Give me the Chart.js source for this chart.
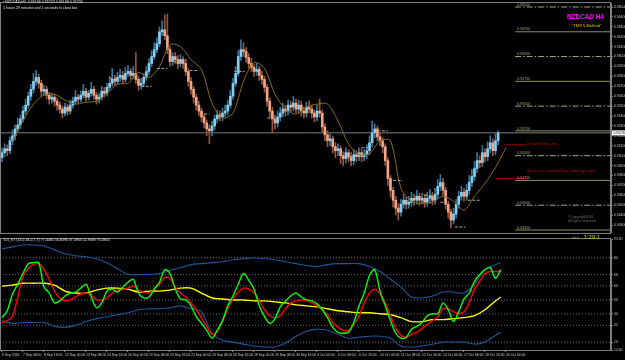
<!DOCTYPE html>
<html>
<head>
<meta charset="utf-8">
<script src="https://cdn.jsdelivr.net/npm/chart.js@4.4.1/dist/chart.umd.min.js"></script>
<style>
    html, body { margin: 0; padding: 0; background: #000; width: 625px; height: 360px; overflow: hidden; }
    #wrap { position: relative; width: 625px; height: 360px; font-family: Arial, "Liberation Sans", sans-serif; }
    #main { position: absolute; left: 0; top: 0; }
    #osc { position: absolute; left: 0; top: 236px; }
    .t { position: absolute; white-space: nowrap; line-height: 1; }
</style>
</head>
<body>
<div id="wrap">
    <canvas id="main" width="625" height="236"></canvas>
    <canvas id="osc" width="625" height="124"></canvas>

    <div class="t" style="left:3px;top:1px;font-size:3.6px;color:#e0e0e0;">&#9642; NZDCAD,H4 &nbsp;0.95196 0.95253 0.95168 0.95230</div>
    <div class="t" style="left:3px;top:6.5px;font-size:3.6px;color:#e0e0e0;">1 hours 29 minutes and 1 seconds to close bar</div>

    <div class="t" style="left:567px;top:13.5px;font-size:6.4px;font-weight:bold;color:#ff00ff;">NZDCAD H4</div>
    <div class="t" style="left:572px;top:23.5px;font-size:4px;color:#e6c200;">"TMS 5-Method"</div>

    <div class="t" style="left:527px;top:141.5px;font-size:4.6px;color:#d00000;font-family:'Liberation Serif',serif;">initial Stop Loss</div>
    <div class="t" style="left:527px;top:168.5px;font-size:4.6px;color:#d00000;font-family:'Liberation Serif',serif;">those who shorted here must get out</div>

    <div class="t" style="left:568px;top:216px;font-size:3.5px;color:#6e6e6e;">&copy;Copyright2016<br>all rights reserved</div>
    <div class="t" style="left:572px;top:226px;color:#d4c800;"><span style="font-size:4px;">&lt;&lt;&lt;</span> <span style="font-size:6px;">1:29:1</span></div>

    <div class="t" style="left:3px;top:238.5px;font-size:3.6px;color:#e0e0e0;">TDI_ST (13,2,34,2,7,7) 77.4085 56.8496 37.4963 52.9083 70.4855</div>
</div>

<script>
// ---------------------------------
// Price data (pips, 0.0001 units)
// ---------------------------------
const opens = [
    9498,9503,9507,9505,9515,9520,9527,9531,9537,9545,
    9551,9560,9567,9575,9579,9573,9565,9567,9561,9557,
    9559,9555,9551,9547,9543,9549,9545,9551,9555,9559,
    9557,9561,9565,9559,9563,9567,9561,9557,9559,9565,
    9563,9569,9573,9577,9575,9579,9581,9577,9583,9585,
    9581,9583,9577,9571,9573,9579,9585,9593,9600,9607,
    9613,9625,9627,9621,9607,9595,9600,9597,9593,9597,
    9593,9585,9575,9567,9559,9551,9545,9539,9533,9527,
    9525,9530,9537,9541,9539,9543,9545,9551,9560,9573,
    9583,9600,9607,9605,9599,9593,9589,9585,9587,9581,
    9577,9569,9555,9545,9537,9533,9539,9543,9547,9545,
    9551,9549,9553,9547,9551,9545,9543,9549,9547,9543,
    9539,9545,9543,9529,9521,9515,9517,9509,9505,9507,
    9500,9497,9503,9499,9495,9501,9499,9503,9499,9501,
    9505,9513,9523,9527,9519,9515,9509,9495,9477,9465,
    9455,9447,9443,9451,9455,9451,9453,9457,9455,9459,
    9455,9457,9453,9457,9459,9455,9461,9469,9473,9465,
    9451,9443,9435,9441,9451,9459,9463,9459,9465,9473,
    9479,9487,9495,9493,9503,9499,9507,9513,9505,9515
];
const closes = [
    9503,9507,9505,9515,9520,9527,9531,9537,9545,9551,
    9560,9567,9575,9579,9573,9565,9567,9561,9557,9559,
    9555,9551,9547,9543,9549,9545,9551,9555,9559,9557,
    9561,9565,9559,9563,9567,9561,9557,9559,9565,9563,
    9569,9573,9577,9575,9579,9581,9577,9583,9585,9581,
    9583,9577,9571,9573,9579,9585,9593,9600,9607,9613,
    9625,9627,9621,9607,9595,9600,9597,9593,9597,9593,
    9585,9575,9567,9559,9551,9545,9539,9533,9527,9525,
    9530,9537,9541,9539,9543,9545,9551,9560,9573,9583,
    9600,9607,9605,9599,9593,9589,9585,9587,9581,9577,
    9569,9555,9545,9537,9533,9539,9543,9547,9545,9551,
    9549,9553,9547,9551,9545,9543,9549,9547,9543,9539,
    9545,9543,9529,9521,9515,9517,9509,9505,9507,9500,
    9497,9503,9499,9495,9501,9499,9503,9499,9501,9505,
    9513,9523,9527,9519,9515,9509,9495,9477,9465,9455,
    9447,9443,9451,9455,9451,9453,9457,9455,9459,9455,
    9457,9453,9457,9459,9455,9461,9469,9473,9465,9451,
    9443,9435,9441,9451,9459,9463,9459,9465,9473,9479,
    9487,9495,9493,9503,9499,9507,9513,9505,9515,9523
];
const highs = [
    9508,9512,9511,9519,9526,9531,9538,9541,9550,9557,
    9564,9572,9583,9586,9582,9576,9571,9570,9564,9563,
    9562,9558,9554,9550,9553,9552,9556,9559,9566,9562,
    9565,9572,9568,9566,9574,9570,9564,9563,9570,9569,
    9573,9580,9588,9581,9584,9587,9585,9589,9591,9588,
    9590,9604,9580,9578,9583,9590,9598,9606,9614,9619,
    9630,9636,9642,9643,9610,9604,9604,9601,9602,9600,
    9597,9588,9579,9570,9562,9555,9548,9542,9536,9531,
    9535,9541,9546,9545,9548,9551,9556,9566,9578,9590,
    9606,9617,9614,9609,9603,9598,9592,9593,9590,9585,
    9580,9572,9558,9549,9541,9545,9549,9553,9551,9556,
    9555,9560,9557,9556,9555,9549,9554,9555,9551,9546,
    9551,9557,9546,9532,9525,9522,9520,9513,9512,9510,
    9504,9508,9506,9503,9506,9505,9508,9507,9506,9511,
    9520,9535,9532,9530,9523,9518,9512,9498,9480,9468,
    9459,9452,9456,9461,9458,9459,9463,9461,9465,9462,
    9462,9461,9463,9466,9463,9467,9476,9481,9477,9468,
    9454,9446,9447,9456,9464,9469,9467,9471,9480,9486,
    9494,9503,9500,9510,9507,9514,9520,9517,9522,9525
];
const lows = [
    9494,9499,9500,9502,9511,9516,9524,9527,9534,9542,
    9548,9556,9563,9571,9568,9560,9561,9557,9552,9553,
    9550,9546,9543,9538,9540,9541,9542,9548,9552,9553,
    9554,9558,9555,9556,9560,9557,9552,9553,9556,9559,
    9560,9566,9570,9571,9572,9575,9573,9574,9580,9577,
    9578,9573,9566,9567,9570,9576,9582,9590,9597,9604,
    9610,9621,9617,9603,9590,9591,9593,9588,9590,9588,
    9581,9570,9562,9553,9546,9540,9534,9528,9520,9512,
    9520,9526,9533,9535,9535,9539,9541,9548,9557,9570,
    9580,9596,9600,9594,9588,9585,9580,9581,9576,9572,
    9564,9550,9538,9523,9527,9529,9535,9539,9540,9541,
    9544,9545,9543,9543,9540,9538,9539,9543,9538,9534,
    9535,9539,9524,9515,9509,9510,9503,9498,9500,9492,
    9490,9493,9494,9490,9491,9494,9495,9494,9495,9497,
    9501,9509,9518,9515,9510,9503,9490,9470,9458,9448,
    9440,9435,9439,9447,9446,9447,9449,9450,9451,9450,
    9451,9448,9449,9452,9450,9451,9457,9465,9460,9446,
    9437,9427,9431,9437,9447,9455,9454,9455,9461,9469,
    9475,9483,9488,9489,9494,9495,9503,9500,9501,9511
];

// moving average, one reading every 4 bars starting at bar 4
const maValues = [
    9515,9535,9552,9561,9562,9556,9552,9554,9555,9563,9572,9573,
    9584,9579,9590,9612,9610,9597,9587,9553,9538,9543,9575,9594,
    9588,9562,9547,9542,9549,9552,9552,9535,9512,9501,9502,9515,
    9515,9467,9454,9452,9453,9459,9454,9445,9459,9472,9488,9508
];

// horizontal levels drawn at the right side of the chart
const levelPrices = [9650, 9625, 9600, 9575, 9550, 9525, 9500, 9475, 9450, 9425];
const levelStartBar = 195.5;
const stopLoss = 9511, exitLevel = 9477;

// short swing marks: [startBar, endBar, price]
const swingMarks = [
    [41,44,9578],[53,57,9570],[59,63,9588],[65,67.5,9595],[71.5,75,9586],[77,79,9542],
    [88.5,92.5,9585],[101,105,9538],[131,134.5,9498],[137,139.5,9508],[143,147,9525],
    [149,152.5,9475],[161,164,9460],[167,169.5,9453],[172.5,176.5,9428],[177.5,182,9455]
];

// ---------------------------------
// TDI oscillator
// ---------------------------------
// green / red: one reading every 2 bars (bars 0..190)
const rsiLine = [
    37.4,42.3,54.2,61.2,68.8,75.8,76.5,76.5,59.1,54.9,
    47.9,49.3,52.8,54.9,55.6,58.4,61.2,52.1,44.4,47.9,
    56.3,57.7,55.6,59.1,62.6,64.7,54.9,51.4,52.1,57.7,
    62.6,71.6,68.8,57.7,50.7,50.0,45.8,38.1,33.3,28.4,
    22.8,28.4,35.3,45.8,52.8,61.2,68.8,64.0,57.7,45.8,
    38.1,33.3,36.7,45.1,49.3,52.8,54.9,52.1,50.0,49.3,
    47.2,43.0,37.4,30.5,27.0,26.3,27.0,34.0,45.8,54.9,
    67.4,71.6,56.3,45.8,35.3,26.3,22.8,23.5,29.1,31.2,
    34.0,38.8,40.2,40.2,47.9,43.0,34.6,41.6,50.7,54.9,
    63.3,68.1,71.6,73.0,65.4,71.6
];
const signalLine = [
    34.0,35.3,38.1,52.1,66.7,72.3,75.1,75.8,71.6,64.7,
    56.3,51.4,49.3,50.0,52.1,54.2,54.9,53.5,50.0,50.0,
    51.4,54.9,57.0,57.7,58.4,59.8,57.0,55.6,54.9,57.7,
    61.2,66.1,65.4,59.1,54.9,52.1,47.9,43.0,37.4,31.2,
    25.6,27.7,34.6,43.7,50.7,55.6,58.4,57.7,54.9,49.3,
    43.0,38.8,37.4,38.8,43.7,47.9,49.3,50.0,49.3,47.9,
    45.8,43.0,39.5,34.0,30.5,28.4,28.4,32.6,38.8,47.9,
    54.9,57.7,54.2,47.9,38.8,29.8,24.9,23.5,25.6,27.0,
    29.8,32.6,35.3,38.1,43.7,43.7,41.6,40.2,41.6,47.9,
    57.7,63.3,68.8,70.2,70.2,70.2
];
// bands and base line: one reading every 4 bars (bars 0..188), then bar 190
const upperBand = [
    86.3,87.7,89.1,89.1,88.4,85.6,82.8,81.4,80.7,79.3,
    76.5,72.3,68.1,68.1,68.1,68.8,70.9,73.0,75.1,75.8,
    76.5,77.2,78.6,79.3,80.0,79.3,78.6,77.2,75.8,74.4,
    73.7,75.1,75.8,75.8,75.8,73.7,70.2,64.7,59.1,52.1,
    51.4,52.8,55.6,55.6,54.9,61.2,71.6,75.1,76.5
];
const lowerBand = [
    35.3,33.3,34.0,34.0,34.0,31.2,30.5,31.9,34.6,36.7,
    38.1,39.5,40.9,43.0,43.7,43.7,44.4,45.8,43.7,41.6,
    26.3,21.4,20.0,18.6,17.2,16.5,16.5,19.3,24.2,27.7,
    29.1,28.4,25.6,22.8,23.5,24.2,24.2,22.8,17.2,16.5,
    17.2,18.6,20.0,20.0,20.0,18.6,20.0,24.9,27.0
];
const baseLine = [
    59.8,60.5,61.9,61.9,61.9,60.5,56.3,54.9,54.9,57.0,
    58.4,58.4,57.7,55.6,56.3,56.3,57.0,58.4,58.4,54.9,
    51.4,50.7,50.0,50.0,49.3,49.3,48.6,47.9,46.5,45.8,
    45.1,43.7,42.3,41.6,40.9,40.9,40.2,39.5,37.4,34.6,
    34.6,36.0,36.0,36.7,37.4,38.8,43.0,49.3,52.1
];
const oscLevels = [20, 32, 40, 50, 60, 68, 80];
const oscMin = 14.4, oscMax = 93.3;

// time axis, one label every 8 bars
const timeLabels = [
    "6 Sep 2016","7 Sep 08:00","8 Sep 16:00","12 Sep 00:00","13 Sep 08:00",
    "14 Sep 16:00","16 Sep 00:00","19 Sep 08:00","20 Sep 16:00","22 Sep 00:00",
    "23 Sep 08:00","26 Sep 16:00","28 Sep 00:00","29 Sep 08:00","30 Sep 16:00",
    "4 Oct 00:00","5 Oct 08:00","6 Oct 16:00","10 Oct 00:00","11 Oct 08:00",
    "12 Oct 16:00","14 Oct 00:00","17 Oct 08:00","18 Oct 16:00","20 Oct 00:00"
];

// ---------------------------------
// helpers / shared settings
// ---------------------------------
const pip = v => v / 10000;
const xMin = -0.76, xMax = 232;
const priceMin = 9422, priceMax = 9654;
const priceTicks = [];
for (let p = 9430; p <= 9650; p += 10) priceTicks.push(pip(p));

const maBars = maValues.map((_, k) => 4 + k * 4);
const rsiBars = rsiLine.map((_, k) => k * 2);
const bandBars = upperBand.map((_, k) => (k < 48 ? k * 4 : 190));

const bullBody = '#84d0f4', bullWick = '#3a7599';
const bearBody = '#f3a585', bearWick = '#94553f';
const frameColor = '#808080';
const tickFont = { size: 3.4, family: 'Arial' };

const framePlugin = {
    id: 'frame',
    afterDraw(chart) {
        const { ctx, chartArea: a } = chart;
        ctx.save();
        ctx.strokeStyle = frameColor;
        ctx.lineWidth = 1;
        ctx.strokeRect(a.left + 0.5, a.top - 0.5, a.right - a.left - 1, a.bottom - a.top + 1);
        ctx.restore();
    }
};

const lineSet = (points, color, width, extra) => Object.assign({
    type: 'line',
    data: points,
    borderColor: color,
    borderWidth: width,
    pointRadius: 0,
    fill: false
}, extra || {});

// ---------------------------------
// main price panel
// ---------------------------------
const isBull = closes.map((c, i) => c >= opens[i]);
const bid = closes[closes.length - 1];

const levelSets = levelPrices.map((p, k) => lineSet(
    [{ x: levelStartBar, y: pip(p) }, { x: xMax, y: pip(p) }],
    k % 2 === 0 ? '#a9a57c' : '#8f8b62', 1,
    { borderDash: k % 2 === 0 ? [6, 2, 1.5, 2] : [], order: 7 }
));

const markPoints = [];
swingMarks.forEach(([s, e, p]) => {
    markPoints.push({ x: s, y: pip(p) }, { x: e, y: pip(p) }, { x: e + 0.01, y: null });
});

const levelLabels = {
    id: 'levelLabels',
    afterDatasetsDraw(chart) {
        const { ctx, scales: { x, y } } = chart;
        ctx.save();
        ctx.font = '3.6px Arial';
        ctx.fillStyle = '#aaa67e';
        ctx.textBaseline = 'bottom';
        levelPrices.forEach(p => {
            ctx.fillText(pip(p).toFixed(5), x.getPixelForValue(levelStartBar) + 2, y.getPixelForValue(pip(p)) - 0.5);
        });
        ctx.restore();
    },
    afterDraw(chart) {
        const { ctx, chartArea: a, scales: { y } } = chart;
        const py = y.getPixelForValue(pip(bid));
        ctx.save();
        ctx.fillStyle = '#ffffff';
        ctx.fillRect(a.right + 1, py - 2.5, 14, 5);
        ctx.fillStyle = '#000000';
        ctx.font = '3.4px Arial';
        ctx.textBaseline = 'middle';
        ctx.fillText(pip(bid).toFixed(5), a.right + 2.5, py);
        ctx.restore();
    }
};

new Chart(document.getElementById('main'), {
    type: 'bar',
    data: {
        datasets: [
            lineSet(markPoints, '#a8a8a8', 1, { borderDash: [3, 1.5], spanGaps: false, order: 0 }),
            lineSet(maBars.map((b, k) => ({ x: b, y: pip(maValues[k]) })), '#8b6914', 1, { tension: 0.3, order: 1 }),
            {
                type: 'bar',
                data: closes.map((c, i) => ({ x: i, y: [pip(opens[i]), pip(c)] })),
                backgroundColor: isBull.map(b => (b ? bullBody : bearBody)),
                barThickness: 2,
                minBarLength: 1,
                grouped: false,
                order: 2
            },
            {
                type: 'bar',
                data: highs.map((h, i) => ({ x: i, y: [pip(lows[i]), pip(h)] })),
                backgroundColor: isBull.map(b => (b ? bullWick : bearWick)),
                barThickness: 1,
                grouped: false,
                order: 3
            },
            lineSet([{ x: 191.5, y: pip(stopLoss) }, { x: 199.5, y: pip(stopLoss) }], '#9a0000', 1, { order: 4 }),
            lineSet([{ x: 188, y: pip(exitLevel) }, { x: 199.5, y: pip(exitLevel) }], '#9a0000', 1, { order: 4 }),
            lineSet([{ x: xMin, y: pip(bid) }, { x: xMax, y: pip(bid) }], '#7c7c7c', 1, { order: 8 }),
            ...levelSets
        ]
    },
    options: {
        responsive: false,
        animation: false,
        events: [],
        layout: { padding: { top: 1, bottom: 3, left: 0, right: 0 } },
        plugins: { legend: { display: false }, tooltip: { enabled: false } },
        scales: {
            x: { type: 'linear', min: xMin, max: xMax, offset: false, display: false },
            y: {
                type: 'linear',
                position: 'right',
                min: pip(priceMin),
                max: pip(priceMax),
                afterBuildTicks: s => { s.ticks = priceTicks.map(v => ({ value: v })); },
                afterFit: s => { s.width = 14; },
                ticks: { color: '#c8c8c8', font: tickFont, padding: 1, callback: v => v.toFixed(5) },
                grid: { drawOnChartArea: false, drawTicks: true, tickLength: 2, color: frameColor },
                border: { display: true, color: frameColor }
            }
        }
    },
    plugins: [framePlugin, levelLabels]
});

// ---------------------------------
// TDI panel
// ---------------------------------
const oscLevelSets = oscLevels.map(lv => lineSet(
    [{ x: xMin, y: lv }, { x: xMax, y: lv }], '#6e6e6e', 1, { borderDash: [1, 2], order: 9 }
));

new Chart(document.getElementById('osc'), {
    type: 'line',
    data: {
        datasets: [
            lineSet(rsiBars.map((b, k) => ({ x: b, y: rsiLine[k] })), '#00ff00', 1.4, { tension: 0.3, order: 0 }),
            lineSet(rsiBars.map((b, k) => ({ x: b, y: signalLine[k] })), '#ff0000', 1.4, { tension: 0.3, order: 1 }),
            lineSet(bandBars.map((b, k) => ({ x: b, y: baseLine[k] })), '#ffff00', 1.4, { tension: 0.3, order: 2 }),
            lineSet(bandBars.map((b, k) => ({ x: b, y: upperBand[k] })), '#1d559a', 1.1, { tension: 0.3, order: 3 }),
            lineSet(bandBars.map((b, k) => ({ x: b, y: lowerBand[k] })), '#1d559a', 1.1, { tension: 0.3, order: 3 }),
            ...oscLevelSets
        ]
    },
    options: {
        responsive: false,
        animation: false,
        events: [],
        layout: { padding: { top: 1, bottom: 0, left: 0, right: 0 } },
        plugins: { legend: { display: false }, tooltip: { enabled: false } },
        scales: {
            x: {
                type: 'linear',
                min: xMin,
                max: xMax,
                offset: false,
                afterBuildTicks: s => { s.ticks = timeLabels.map((_, k) => ({ value: k * 8 })); },
                afterFit: s => { s.height = 10; },
                ticks: {
                    color: '#d0d0d0', font: tickFont, padding: 1, align: 'start',
                    maxRotation: 0, autoSkip: false,
                    callback: (v, i) => timeLabels[i]
                },
                grid: { drawOnChartArea: false, drawTicks: true, tickLength: 2, color: frameColor },
                border: { display: true, color: frameColor }
            },
            y: {
                type: 'linear',
                position: 'right',
                min: oscMin,
                max: oscMax,
                afterBuildTicks: s => { s.ticks = [oscMin, ...oscLevels, oscMax].map(v => ({ value: v })); },
                afterFit: s => { s.width = 14; },
                ticks: {
                    color: '#c8c8c8', font: tickFont, padding: 1,
                    callback: v => (oscLevels.includes(v) ? String(v) : v.toFixed(2))
                },
                grid: { drawOnChartArea: false, drawTicks: true, tickLength: 2, color: frameColor },
                border: { display: true, color: frameColor }
            }
        }
    },
    plugins: [framePlugin]
});
</script>
</body>
</html>
